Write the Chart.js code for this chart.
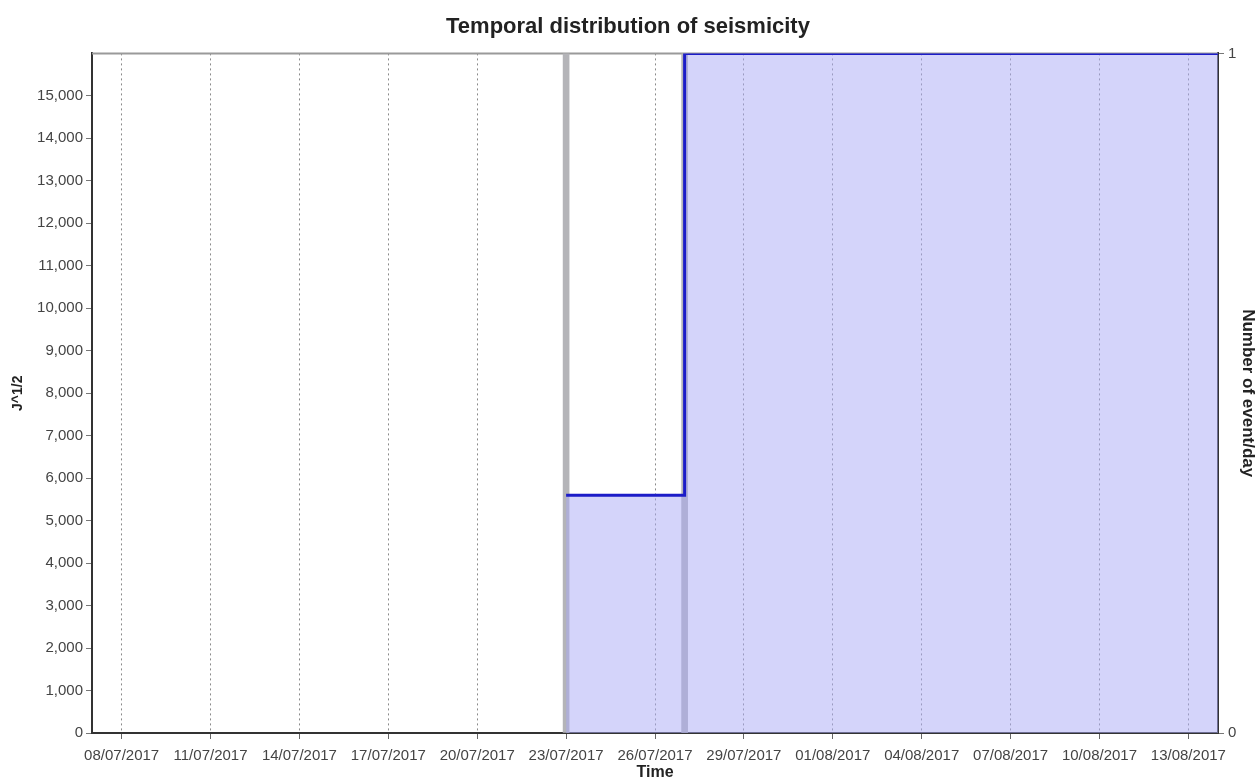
<!DOCTYPE html>
<html lang="en">
<head>
    <meta charset="UTF-8">
    <title>Temporal distribution of seismicity</title>
    <script src="https://cdn.jsdelivr.net/npm/chart.js"></script>
    <style>
        html, body {
            margin: 0;
            padding: 0;
            background: #ffffff;
        }
        #chartContainer {
            width: 1256px;
            height: 781px;
        }
    </style>
</head>
<body>
    <div id="chartContainer">
        <canvas id="seismicityChart"></canvas>
    </div>

    <script>
        // x range and tick labels (dd/mm/yyyy)
        const xStart = '07/07/2017';
        const xEnd = '14/08/2017';
        const xTickLabels = ['08/07/2017', '11/07/2017', '14/07/2017', '17/07/2017', '20/07/2017', '23/07/2017',
            '26/07/2017', '29/07/2017', '01/08/2017', '04/08/2017', '07/08/2017', '10/08/2017', '13/08/2017'];

        // cumulative J^1/2 (step line)
        const energyDates = ['23/07/2017', '27/07/2017', '14/08/2017'];
        const energyValues = [5600, 16000, 16000];

        // number of events per day
        const eventDates = ['23/07/2017', '27/07/2017'];
        const eventCounts = [1, 1];

        const FONT = "'Liberation Sans', Arial, sans-serif";

        function toDay(s) {
            const [d, m, y] = s.split('/').map(Number);
            return Date.UTC(y, m - 1, d) / 86400000;
        }
        function pad(n) {
            return (n < 10 ? '0' : '') + n;
        }
        function fmtDay(v) {
            const dt = new Date(Math.round(v) * 86400000);
            return pad(dt.getUTCDate()) + '/' + pad(dt.getUTCMonth() + 1) + '/' + dt.getUTCFullYear();
        }

        const topBorder = {
            id: 'topBorder',
            beforeDatasetsDraw(chart) {
                const { ctx, chartArea } = chart;
                ctx.save();
                ctx.strokeStyle = '#9a9a9a';
                ctx.lineWidth = 2;
                ctx.beginPath();
                ctx.moveTo(chartArea.left, chartArea.top);
                ctx.lineTo(chartArea.right, chartArea.top);
                ctx.stroke();
                ctx.restore();
            }
        };

        const ctx = document.getElementById('seismicityChart').getContext('2d');

        new Chart(ctx, {
            data: {
                datasets: [
                    {
                        type: 'line',
                        label: 'J^1/2',
                        data: energyDates.map((d, i) => ({ x: toDay(d), y: energyValues[i] })),
                        borderColor: '#1c1cc8',
                        borderWidth: 3,
                        backgroundColor: 'rgba(170, 170, 245, 0.5)',
                        fill: 'origin',
                        stepped: 'before',
                        pointRadius: 0,
                        yAxisID: 'y',
                        order: 0
                    },
                    {
                        type: 'bar',
                        label: 'Number of event/day',
                        data: eventDates.map((d, i) => ({ x: toDay(d), y: eventCounts[i] })),
                        backgroundColor: '#b4b4b8',
                        barThickness: 6,
                        yAxisID: 'y1',
                        order: 1
                    }
                ]
            },
            options: {
                responsive: true,
                maintainAspectRatio: false,
                animation: false,
                layout: { padding: 0 },
                plugins: {
                    legend: { display: false },
                    tooltip: { enabled: false },
                    title: {
                        display: true,
                        text: 'Temporal distribution of seismicity',
                        color: '#222',
                        font: { family: FONT, size: 22, weight: 'bold' },
                        padding: { top: 14, bottom: 13 }
                    }
                },
                scales: {
                    x: {
                        type: 'linear',
                        position: 'bottom',
                        offset: false,
                        min: toDay(xStart),
                        max: toDay(xEnd),
                        afterBuildTicks: (scale) => {
                            scale.ticks = xTickLabels.map(l => ({ value: toDay(l) }));
                        },
                        afterFit: (scale) => { scale.height = 48; },
                        ticks: {
                            autoSkip: false,
                            maxRotation: 0,
                            padding: 8,
                            color: '#444',
                            font: { family: FONT, size: 15 },
                            callback: (v) => fmtDay(v)
                        },
                        grid: {
                            offset: false,
                            color: '#8a8a8a',
                            lineWidth: 1,
                            tickLength: 6,
                            tickColor: '#666',
                            tickBorderDash: []
                        },
                        border: {
                            display: true,
                            color: '#333',
                            width: 2,
                            dash: [2, 3]
                        },
                        title: {
                            display: true,
                            text: 'Time',
                            color: '#222',
                            font: { family: FONT, size: 16, weight: 'bold', lineHeight: 1 },
                            padding: 0
                        }
                    },
                    y: {
                        type: 'linear',
                        position: 'left',
                        min: 0,
                        max: 16000,
                        afterBuildTicks: (scale) => {
                            scale.ticks = scale.ticks.filter(t => t.value <= 15000);
                        },
                        afterFit: (scale) => { scale.width = 92; },
                        ticks: {
                            stepSize: 1000,
                            padding: 3,
                            color: '#444',
                            font: { family: FONT, size: 15 },
                            callback: (v) => v.toLocaleString('en-US')
                        },
                        grid: {
                            drawOnChartArea: false,
                            tickLength: 6,
                            tickColor: '#777'
                        },
                        border: { display: true, color: '#333', width: 2 },
                        title: {
                            display: true,
                            text: 'J^1/2',
                            color: '#222',
                            font: { family: FONT, size: 14, weight: 'bold', lineHeight: 1.2 },
                            padding: { top: 10, bottom: 0 }
                        }
                    },
                    y1: {
                        type: 'linear',
                        position: 'right',
                        min: 0,
                        max: 1,
                        afterFit: (scale) => { scale.width = 38; },
                        ticks: {
                            stepSize: 1,
                            padding: 4,
                            color: '#444',
                            font: { family: FONT, size: 15 }
                        },
                        grid: {
                            drawOnChartArea: false,
                            tickLength: 6,
                            tickColor: '#777'
                        },
                        border: { display: true, color: '#333', width: 2 },
                        title: {
                            display: true,
                            text: 'Number of event/day',
                            color: '#222',
                            font: { family: FONT, size: 17, weight: 'bold', lineHeight: 1 },
                            padding: { top: 0, bottom: 0 }
                        }
                    }
                }
            },
            plugins: [topBorder]
        });
    </script>
</body>
</html>
